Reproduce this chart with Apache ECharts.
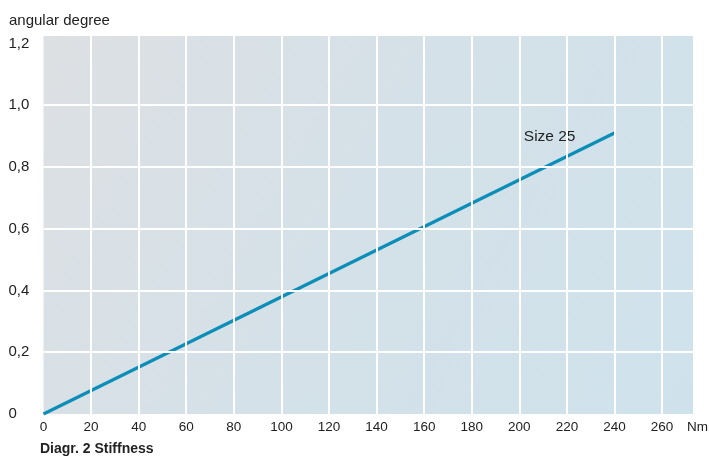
<!DOCTYPE html>
<html>
<head>
<meta charset="utf-8">
<script src="https://cdn.jsdelivr.net/npm/echarts@6/dist/echarts.min.js"></script>
<style>
html,body{margin:0;padding:0;background:#fff;}
#c{width:709px;height:456px;}
</style>
</head>
<body>
<div id="c"></div>
<script>
// Data
const torqueNm = [0, 240];
const angleDeg = [0, 0.91];
const seriesName = 'Size 25';
const xTicks = [0, 20, 40, 60, 80, 100, 120, 140, 160, 180, 200, 220, 240, 260];
const yTicks = [0, 0.2, 0.4, 0.6, 0.8, 1.0, 1.2];
const yTickLabels = ['0', '0,2', '0,4', '0,6', '0,8', '1,0', '1,2'];
const xGridValues = [20, 40, 60, 80, 100, 120, 140, 160, 180, 200, 220, 240, 260];
const yGridValues = [0.2, 0.4, 0.6, 0.8, 1.0];
const yTitle = 'angular degree';
const xUnit = 'Nm';
const caption = 'Diagr. 2 Stiffness';

const FONT = '"Liberation Sans", Arial, Helvetica, sans-serif';
const chart = echarts.init(document.getElementById('c'), null, {renderer: 'canvas'});
const pts = torqueNm.map((x, i) => [x, angleDeg[i]]);
const gridMarks = [
  ...xGridValues.map(v => ({xAxis: v})),
  ...yGridValues.map(v => ({yAxis: v}))
];
chart.setOption({
  animation: false,
  backgroundColor: '#ffffff',
  textStyle: {fontFamily: FONT},
  title: [
    {text: yTitle, left: 9, top: 13, padding: 0, textStyle: {fontSize: 15, fontWeight: 'normal', color: '#222', fontFamily: FONT}},
    {text: caption, left: 40, top: 442, padding: 0, textStyle: {fontSize: 14, fontWeight: 'bold', color: '#222', fontFamily: FONT}}
  ],
  grid: {
    left: 43.5, right: 16, top: 36, bottom: 42,
    outerBoundsMode: 'none', containLabel: false,
    show: true, borderWidth: 0,
    backgroundColor: new echarts.graphic.LinearGradient(0, 0, 1, 1, [
      {offset: 0, color: '#dde0e3'},
      {offset: 0.5, color: '#d4e1e8'},
      {offset: 1, color: '#cfe2ec'}
    ])
  },
  xAxis: {
    type: 'value', min: 0, max: 273,
    name: xUnit, nameLocation: 'end', nameGap: -6,
    nameTextStyle: {fontSize: 13.5, color: '#222', fontFamily: FONT, align: 'left', verticalAlign: 'top', padding: [6, 0, 0, 0]},
    axisLine: {show: false}, axisTick: {show: false},
    axisLabel: {customValues: xTicks, fontSize: 13.5, color: '#222', margin: 6, fontFamily: FONT},
    splitLine: {show: false}
  },
  yAxis: {
    type: 'value', min: 0, max: 1.224,
    axisLine: {show: false}, axisTick: {show: false},
    axisLabel: {customValues: yTicks, fontSize: 15, color: '#222', margin: 35, align: 'left', fontFamily: FONT,
      formatter: v => { const i = yTicks.findIndex(t => Math.abs(t - v) < 1e-6); return i >= 0 ? yTickLabels[i] : ''; }},
    splitLine: {show: false}
  },
  series: [
    {
      type: 'line', name: 'grid', data: [], z: 1, silent: true,
      markLine: {
        silent: true, symbol: 'none', animation: false,
        label: {show: false},
        lineStyle: {color: '#ffffff', width: 2, type: 'solid'},
        emphasis: {disabled: true},
        data: gridMarks
      }
    },
    {
      type: 'line', name: seriesName, data: pts, z: 3,
      showSymbol: false, symbol: 'none',
      lineStyle: {color: '#0c8eb8', width: 3.2},
      endLabel: {show: true, formatter: seriesName, distance: 0, align: 'right', verticalAlign: 'middle', offset: [-39, 4],
        fontSize: 15.5, color: '#222', fontFamily: FONT}
    }
  ]
});
</script>
</body>
</html>
